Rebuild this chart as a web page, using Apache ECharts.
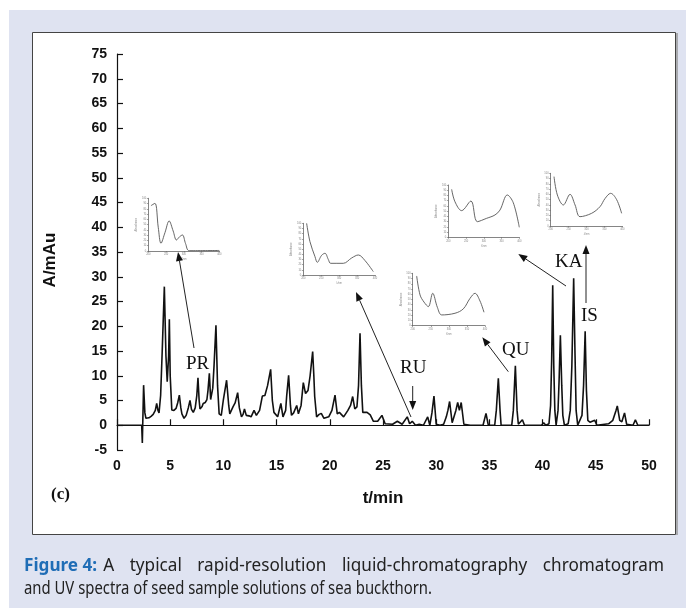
<!DOCTYPE html>
<html><head><meta charset="utf-8">
<script src="https://cdn.jsdelivr.net/npm/echarts@6/dist/echarts.min.js"></script>
<style>html,body{margin:0;padding:0;background:#fff}#c{width:686px;height:608px}</style>
</head><body><div id="c"></div>
<script>
// Chromatogram trace: retention time (min) and absorbance (mAu)
const retentionTime = [0,2.32,2.38,2.5,2.62,2.72,3.0,3.2,3.4,3.6,3.73,3.85,3.95,4.1,4.25,4.45,4.6,4.72,4.85,4.92,5.0,5.15,5.35,5.55,5.7,5.86,6.0,6.1,6.3,6.5,6.7,6.86,7.0,7.17,7.35,7.5,7.61,7.72,7.8,8.0,8.1,8.3,8.45,8.55,8.68,8.8,9.0,9.12,9.3,9.45,9.6,9.8,10.0,10.3,10.5,10.6,10.9,11.1,11.34,11.5,11.7,11.85,11.98,12.15,12.4,12.6,12.88,13.1,13.4,13.66,13.9,14.15,14.44,14.6,14.75,15.1,15.4,15.6,15.85,15.95,16.13,16.3,16.4,16.6,16.89,17.05,17.3,17.51,17.72,17.95,18.15,18.39,18.5,18.58,18.76,19.0,19.2,19.45,19.9,20.2,20.49,20.7,20.9,21.3,21.7,21.95,22.15,22.35,22.55,22.7,22.84,22.97,23.1,23.5,23.8,24.1,24.5,24.9,25.2,25.9,26.35,26.8,27.28,27.5,27.75,28.05,28.4,28.8,29.2,29.4,29.6,29.79,30.0,30.35,30.7,30.95,31.1,31.26,31.5,31.85,32.02,32.18,32.35,32.6,33.2,34.4,34.68,34.9,35.5,35.65,35.84,36.0,36.1,37.1,37.25,37.44,37.6,37.72,37.9,38.1,38.3,39.9,40.1,40.3,40.6,40.75,40.85,40.95,41.05,41.15,41.27,41.45,41.55,41.67,41.8,41.9,42.05,42.4,42.6,42.75,42.92,43.05,43.15,43.3,43.7,43.85,44.0,44.12,44.25,44.45,44.6,44.9,45.1,46.2,46.6,46.9,47.02,47.25,47.45,47.7,47.9,48.5,48.72,48.95,50];
const absorbance = [0,0,-3.6,8.1,2.5,1.4,1.5,1.8,2.2,3.0,4.4,3.0,2.5,6,15,28,14,8.8,14,21.4,10,3.1,3.0,3.4,4.5,6.1,3.5,2.3,1.4,2.0,3.5,5.0,3.2,2.6,3.5,6,9.6,5,3.3,3.8,4.4,4.6,5.2,7,10.5,5.2,7.5,12,20.2,8,2.3,2.0,5.2,9.1,4,2.3,3.7,4.5,6.6,3.5,1.7,2.2,3.3,2.0,1.9,1.7,3.0,2.0,3.0,5.9,6,8,11.3,5,2.6,1.7,4.4,1.7,3,6,10.1,4,2.0,2.5,4.0,2.3,4,8.6,6.4,7,10,14.9,10,5.8,1.7,2.2,2.4,1.4,1.7,3.0,6.1,2.3,2.6,1.7,3.0,4,5.8,3.3,3.7,8,18.6,8,2.6,2.6,2.1,0.8,0.8,2.0,0.3,0.2,0.8,0.2,1.7,0.3,0.8,0,0.2,0,1.7,0,2.5,5.9,0.2,0,0.2,1.7,3,4.8,0.5,3.0,4.6,3.0,4.6,0.2,0,0,2.4,0,0,3,9.5,3,0,0,3,12.0,3,0.2,0.5,1.1,0,0,0.5,0,0.3,4,13,28.3,12,3,0,3,9,18.2,8,2,0,0.3,3,12,29.7,14,3,0,2,8,19.0,7,1,0.6,0.2,1.0,0,0.3,1,3,3.9,1,0.7,2.5,0.2,0,1.1,0,0];

// UV spectra insets: wavelength (nm) and relative absorbance (%)
const specPRnm  = [207.5,218.8,228,235.7,247,258.7,270,279.3,288,296.2,305,315,400];
const specPRabs = [86,90.5,45,14.6,35,57,38,20.9,27,30.4,14,0.6,1];
const specRUnm  = [209.3,218.6,232.6,239,251,260.5,269.8,276.3,311.6,335,353.5,372,395.3];
const specRUabs = [100,64.5,35.5,24.5,38,42,30,22.6,22.6,33,38.7,28,6.5];
const specQUnm  = [211,220.3,231.3,243.3,255.3,268.2,280.2,317,340,358.5,372.3,386.2,397.2];
const specQUabs = [94.9,58.6,45,36.3,61.8,35,20.4,23.6,32,52,61.8,47,25.5];
const specKAnm  = [209.4,218.8,237.6,263.8,281.7,308,331.5,345.5,366.2,383.1,400];
const specKAabs = [91.7,68,51,69.4,29.9,36.3,42.7,52,80.9,66,19.1];
const specISnm  = [209.3,218.6,235.3,254,268,281.9,314.4,337.7,351.6,367.4,384.2,398.1];
const specISabs = [93.7,58.9,39.9,60.1,40,17.7,24.1,36.7,52,62,50,24.1];

const peakLabels = ['PR','RU','QU','KA','IS'];
const yAxisTitle = 'A/mAu';
const xAxisTitle = 't/min';
const panelTag = '(c)';
const captionBold = 'Figure 4:';
const captionLine1 = 'A typical rapid-resolution liquid-chromatography chromatogram';
const captionLine2 = 'and UV spectra of seed sample solutions of sea buckthorn.';

const zip = (a, b) => a.map((v, i) => [v, b[i]]);

const chart = echarts.init(document.getElementById('c'), null, {renderer: 'canvas'});

const insetBoxes = [
  [148.3,198.3,71,52.7],
  [303.3,223.3,71.7,51.7],
  [412.7,273.3,72.3,52.3],
  [448.3,185,71,52.3],
  [550.7,173.3,71.6,52.7]
];
const insetData = [zip(specPRnm,specPRabs), zip(specRUnm,specRUabs), zip(specQUnm,specQUabs), zip(specKAnm,specKAabs), zip(specISnm,specISabs)];

const axisFont = {fontFamily: 'Liberation Sans', fontWeight: 'bold', fontSize: 14, color: '#111'};

const grids = [{left:117, top:54, width:532, height:396}];
const xAxes = [{
  type:'value', min:0, max:50, interval:5, gridIndex:0,
  name:xAxisTitle, nameLocation:'middle', nameGap:40,
  nameTextStyle:{fontFamily:'Liberation Sans', fontWeight:'bold', fontSize:17, color:'#111'},
  axisLine:{lineStyle:{color:'#111', width:1.2}},
  axisTick:{inside:true, length:6, lineStyle:{color:'#111', width:1.2}},
  axisLabel:Object.assign({margin:9}, axisFont),
  splitLine:{show:false}
}];
const yAxes = [{
  type:'value', min:-5, max:75, interval:5, gridIndex:0,
  axisLine:{show:true, lineStyle:{color:'#111', width:1.2}},
  axisTick:{show:true, inside:true, length:6, lineStyle:{color:'#111', width:1.2}},
  axisLabel:Object.assign({margin:10}, axisFont),
  splitLine:{show:false}
}];
const series = [{
  type:'line', xAxisIndex:0, yAxisIndex:0, data: zip(retentionTime, absorbance),
  showSymbol:false, symbol:'none', lineStyle:{color:'#111', width:1.6}, z:5, animation:false
}];

insetBoxes.forEach((b, i) => {
  const gi = i + 1;
  grids.push({left:b[0], top:b[1], width:b[2], height:b[3]});
  const small = {fontSize:2.6, color:'#888', fontFamily:'Liberation Sans'};
  xAxes.push({type:'value', gridIndex:gi, min:200, max:400, interval:50,
    name:'λ/nm', nameLocation:'middle', nameGap:7, nameTextStyle:small,
    axisLine:{lineStyle:{color:'#666', width:0.8}},
    axisTick:{length:1.5, lineStyle:{color:'#666', width:0.6}},
    axisLabel:Object.assign({margin:2}, small), splitLine:{show:false}});
  yAxes.push({type:'value', gridIndex:gi, min:0, max:100, interval:10,
    name:'Absorbance', nameLocation:'middle', nameGap:8, nameRotate:90, nameTextStyle:small,
    axisLine:{show:true, lineStyle:{color:'#666', width:0.8}},
    axisTick:{show:true, length:1.5, lineStyle:{color:'#666', width:0.6}},
    axisLabel:Object.assign({margin:2}, small), splitLine:{show:false}});
  series.push({type:'line', xAxisIndex:gi, yAxisIndex:gi, data:insetData[i], smooth:0.35,
    showSymbol:false, symbol:'none', lineStyle:{color:'#555', width:0.9}, animation:false});
});

// arrow helper
function arrow(x1, y1, x2, y2) {
  const dx = x2 - x1, dy = y2 - y1, L = Math.hypot(dx, dy);
  const ux = dx / L, uy = dy / L, hl = 9, hw = 3.5;
  const bx = x2 - ux * hl, by = y2 - uy * hl;
  return [
    {type:'line', shape:{x1:x1, y1:y1, x2:bx, y2:by}, style:{stroke:'#222', lineWidth:1}, z:20},
    {type:'polygon', shape:{points:[[x2,y2],[bx - uy*hw, by + ux*hw],[bx + uy*hw, by - ux*hw]]}, style:{fill:'#111'}, z:20}
  ];
}

const serif = {fontFamily:'Liberation Serif', fontSize:19, fill:'#111'};
const labelPos = [[186,364],[400,368],[502,350],[555,262],[581,316]];
const graphic = [
  {type:'rect', shape:{x:9, y:10, width:677, height:598}, style:{fill:'#dfe3f1'}, z:-10},
  {type:'rect', shape:{x:32.5, y:32.5, width:643, height:502}, style:{fill:'#fff', stroke:'#444', lineWidth:1}, z:-9},
  {type:'line', shape:{x1:677, y1:33, x2:677, y2:535}, style:{stroke:'#999', lineWidth:1.5}, z:-8},
  {type:'text', left:51, top:486, style:{text:panelTag, fontFamily:'Liberation Serif', fontWeight:'bold', fontSize:17, fill:'#111'}, z:20},
  {type:'text', x:50, y:260, rotation:Math.PI/2, style:{text:yAxisTitle, fontFamily:'Liberation Sans', fontWeight:'bold', fontSize:17, fill:'#111', textAlign:'center', textVerticalAlign:'middle'}, z:20}
];
peakLabels.forEach((t, i) => {
  graphic.push({type:'text', x:labelPos[i][0], y:labelPos[i][1], style:Object.assign({text:t, textVerticalAlign:'middle'}, serif), z:20});
});
graphic.push(...arrow(194, 348, 178, 252));
graphic.push(...arrow(412.7, 386, 412.7, 410));
graphic.push(...arrow(411, 417, 356, 292));
graphic.push(...arrow(508.3, 371.7, 482.3, 337.3));
graphic.push(...arrow(566, 286, 518.3, 254));
graphic.push(...arrow(586, 303, 586, 245));

// caption: line 1 justified (wider set), line 2 natural
const capFont = 17.5, capFamily = 'Noto Sans';
const ctx = document.createElement('canvas').getContext('2d');
const fontStr = (b) => (b ? 'bold ' : '') + capFont + 'px "' + capFamily + '"';
ctx.font = fontStr(false);
const sx2 = 408 / ctx.measureText(captionLine2).width;
ctx.font = fontStr(true);
const boldW = ctx.measureText(captionBold).width;
const words1 = captionLine1.split(' ');
ctx.font = fontStr(false);
const natW = words1.map(w => ctx.measureText(w).width);
const natSum = boldW + natW.reduce((a, b) => a + b, 0);
const firstGap = 6, wordGap = 15.5;
const sx1 = (640 - firstGap - wordGap * (words1.length - 1)) / natSum;
graphic.push({type:'text', x:24, y:566, scaleX:sx1, style:{text:captionBold, fontFamily:capFamily, fontSize:capFont, fontWeight:'bold', fill:'#1f6db6', textVerticalAlign:'middle'}, z:20});
let cx = 24 + boldW * sx1 + firstGap;
words1.forEach((w, i) => {
  graphic.push({type:'text', x:cx, y:566, scaleX:sx1, style:{text:w, fontFamily:capFamily, fontSize:capFont, fill:'#222', textVerticalAlign:'middle'}, z:20});
  cx += natW[i] * sx1 + wordGap;
});
graphic.push({type:'text', x:24, y:589, scaleX:sx2, style:{text:captionLine2, fontFamily:capFamily, fontSize:capFont, fill:'#222', textVerticalAlign:'middle'}, z:20});

chart.setOption({
  animation:false,
  backgroundColor:'#fff',
  grid:grids, xAxis:xAxes, yAxis:yAxes, series:series, graphic:graphic
});
</script></body></html>
